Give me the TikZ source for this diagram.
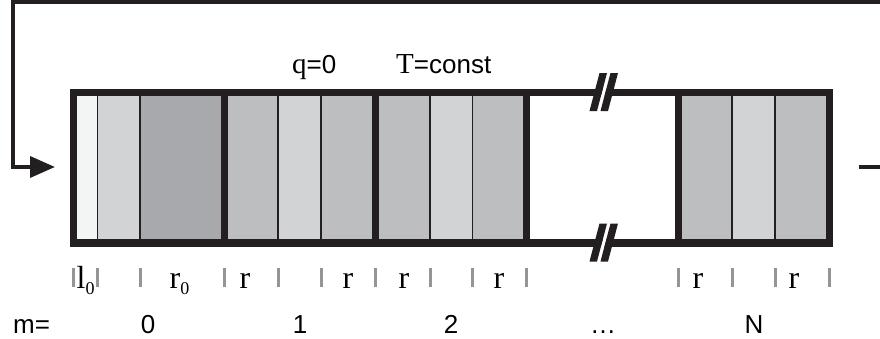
\documentclass[tikz,border=0pt]{standalone}
\usepackage{fontspec}
\setmainfont{Liberation Serif}
\newfontfamily\arialf{Liberation Sans}
\usetikzlibrary{arrows.meta}
\definecolor{ink}{HTML}{231F20}
\definecolor{cellw}{HTML}{F3F4F4}
\definecolor{celll}{HTML}{D1D3D4}
\definecolor{cellm}{HTML}{BCBEC0}
\definecolor{celld}{HTML}{A7A9AC}
\definecolor{tickc}{HTML}{939598}
\begin{document}
\begin{tikzpicture}[x=1pt,y=-1pt,
  border/.style={draw=ink,line width=7.3pt},
  thinsep/.style={draw=ink,line width=1.3pt},
  tickmark/.style={draw=tickc,line width=3pt},
  feedline/.style={draw=ink,line width=3.6pt},
  serif/.style={font=\fontsize{32}{32}\selectfont, inner sep=0pt},
  sans/.style={font=\arialf\fontsize{26}{26}\selectfont, inner sep=0pt}]
\useasboundingbox (0,0) rectangle (880,338);
% cells
\foreach \a/\b/\c in {73.5/97.5/cellw, 97.5/140/celll, 140/224.5/celld,
  224.5/278/cellm, 278/321/celll, 321/375.5/cellm,
  375.5/430/cellm, 430/472.5/celll, 472.5/526.5/cellm,
  678.5/732/cellm, 732/775/celll, 775/829.5/cellm}
  \fill[fill=\c] (\a,92.5) rectangle (\b,243);
\foreach \x in {97.5,140,278,321,430,472.5,732,775}
  \draw[thinsep] (\x,92.5) -- (\x,243);
% borders
\draw[border] (73.5,92.5) rectangle (526.5,243);
\draw[border] (224.5,92.5) -- (224.5,243);
\draw[border] (375.5,92.5) -- (375.5,243);
\draw[border] (678.5,92.5) rectangle (829.5,243);
\draw[border] (526.5,92.5) -- (678.5,92.5);
\draw[border] (526.5,243) -- (678.5,243);
% break marks
\foreach \yc in {92.5,243} {
  \fill[white] (597,\yc+18.5) -- (600.5,\yc+18.5) -- (610.5,\yc-19.5) -- (607,\yc-19.5) -- cycle;
  \fill[ink] (589.5,\yc+18.5) -- (597,\yc+18.5) -- (607,\yc-19.5) -- (599.5,\yc-19.5) -- cycle;
  \fill[ink] (600.5,\yc+18.5) -- (608,\yc+18.5) -- (618,\yc-19.5) -- (610.5,\yc-19.5) -- cycle;
}
% ticks
\foreach \x in {73.5,97.5,140,224.5,278,321,375.5,430,472.5,526.5,678.5,732,775,829.5}
  \draw[tickmark] (\x,268) -- (\x,287);
% feedback loop
\coordinate (ls) at (880,1.8);
\coordinate (lc1) at (13,1.8);
\coordinate (lc2) at (13,167);
\coordinate (tip) at (55,167);
\draw[feedline,-{Triangle[length=25pt,width=21pt]}] (ls) -- (lc1) -- (lc2) -- (tip);
\coordinate (rs) at (859,167);
\coordinate (re) at (880,167);
\draw[feedline] (rs) -- (re);
% top labels
\node[anchor=base west, inner sep=0pt] (qlab) at (292,73) {\fontsize{29}{29}\selectfont q\arialf\fontsize{26}{26}\selectfont =0};
\node[anchor=base west, inner sep=0pt] (tlab) at (396,73) {\fontsize{29}{29}\selectfont T\arialf\fontsize{26}{26}\selectfont =const};
% cell labels
\node[serif, anchor=base west] (l0) at (76.5,288) {l\raisebox{-6pt}{\fontsize{18}{18}\selectfont 0}};
\node[serif, anchor=base west] (r0) at (169.5,288) {r\raisebox{-6pt}{\fontsize{18}{18}\selectfont 0}};
\foreach \x [count=\i] in {245,348,404,499,698,794}
  \node[serif, anchor=base] (r\i) at (\x,288) {r};
% block indices
\node[sans, anchor=base west] (mlab) at (13,333) {m=};
\node[sans, anchor=base] (m0) at (148,333) {0};
\node[sans, anchor=base] (m1) at (300,333) {1};
\node[sans, anchor=base] (m2) at (451,333) {2};
\node[sans, anchor=base] (mdots) at (603,333) {…};
\node[sans, anchor=base] (mN) at (754,333) {N};
\end{tikzpicture}
\end{document}
